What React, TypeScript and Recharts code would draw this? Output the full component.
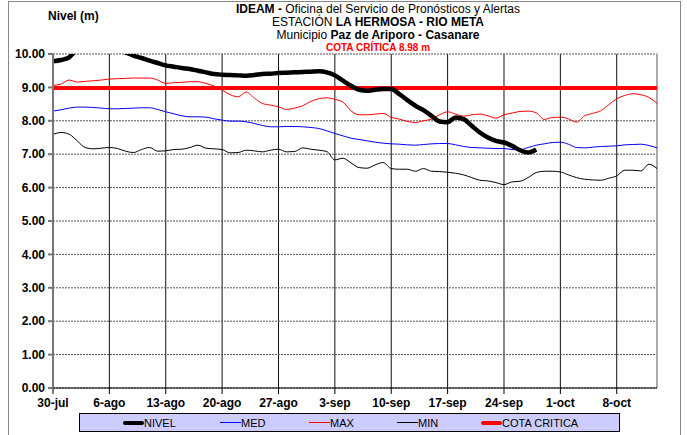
import React from "react";
import { LineChart, Line, XAxis, YAxis, CartesianGrid, ReferenceLine } from "recharts";

const tickDays = [0, 7, 14, 21, 28, 35, 42, 49, 56, 63, 70];
const tickLabels = ["30-jul", "6-ago", "13-ago", "20-ago", "27-ago", "3-sep", "10-sep", "17-sep", "24-sep", "1-oct", "8-oct"];
const yTicks = [0, 1, 2, 3, 4, 5, 6, 7, 8, 9, 10];
const cotaCritica = 8.98;

const nivel = [
  9.78, 9.82, 9.9, 10.15, 10.25, 10.3, 10.3, 10.25, 10.15, 10.05,
  9.95, 9.88, 9.8, 9.73, 9.66, 9.62, 9.58, 9.55, 9.5, 9.45,
  9.4, 9.38, 9.37, 9.36, 9.35, 9.37, 9.4, 9.41, 9.43, 9.44,
  9.45, 9.46, 9.47, 9.48, 9.45, 9.36, 9.2, 9.05, 8.93, 8.9,
  8.93, 8.95, 8.95, 8.8, 8.62, 8.45, 8.32, 8.15, 7.98, 7.96,
  8.1, 8.05, 7.85, 7.65, 7.5, 7.4, 7.35, 7.25, 7.12, 7.05,
  7.14,
];

const med = [
  8.29, 8.33, 8.38, 8.41, 8.41, 8.4, 8.38, 8.36, 8.36, 8.37,
  8.38, 8.39, 8.39, 8.34, 8.27, 8.21, 8.15, 8.12, 8.12, 8.11,
  8.06, 8.02, 7.99, 7.99, 7.97, 7.92, 7.86, 7.82, 7.82, 7.83,
  7.83, 7.82, 7.8, 7.77, 7.7, 7.62, 7.55, 7.48, 7.44, 7.4,
  7.36, 7.33, 7.31, 7.3, 7.28, 7.27, 7.29, 7.31, 7.32, 7.32,
  7.28, 7.23, 7.2, 7.19, 7.18, 7.17, 7.17, 7.14, 7.13, 7.2,
  7.27, 7.31, 7.35, 7.36, 7.3, 7.2, 7.19, 7.21, 7.23, 7.24,
  7.25, 7.28, 7.29, 7.3, 7.26, 7.19,
];

const max = [
  9.06, 9.1, 9.22, 9.16, 9.18, 9.2, 9.22, 9.25, 9.26, 9.27,
  9.28, 9.28, 9.28, 9.22, 9.12, 9.14, 9.15, 9.17, 9.17, 9.12,
  9.04, 8.92, 8.78, 8.72, 8.86, 8.68, 8.52, 8.47, 8.42, 8.34,
  8.38, 8.45, 8.58, 8.66, 8.69, 8.64, 8.56, 8.3, 8.18, 8.18,
  8.2, 8.22, 8.1, 8.05, 7.98, 7.95, 8.0, 8.05, 8.18, 8.27,
  8.2, 8.14, 8.18, 8.2, 8.15, 8.08, 8.18, 8.23, 8.28, 8.29,
  8.24, 8.04, 8.1, 8.11, 8.06, 7.96, 8.15, 8.22, 8.3, 8.48,
  8.66, 8.76, 8.81, 8.78, 8.7, 8.52,
];

const min = [
  7.59, 7.65, 7.6, 7.4, 7.2, 7.16, 7.18, 7.2, 7.17, 7.09,
  7.05, 7.14, 7.2, 7.09, 7.1, 7.14, 7.15, 7.2, 7.27, 7.18,
  7.16, 7.14, 7.04, 7.05, 7.12, 7.1, 7.07, 7.12, 7.15, 7.07,
  7.08, 7.19, 7.15, 7.12, 7.08, 6.83, 6.88, 6.74, 6.6, 6.58,
  6.68, 6.75, 6.57, 6.55, 6.55, 6.49, 6.57, 6.49, 6.48, 6.46,
  6.43, 6.38, 6.3, 6.22, 6.2, 6.15, 6.09, 6.17, 6.19, 6.3,
  6.45, 6.49, 6.49, 6.47, 6.38, 6.3, 6.25, 6.23, 6.22, 6.28,
  6.35, 6.52, 6.52, 6.5, 6.7, 6.57,
];

const data = med.map((m, i) => ({
  day: i,
  nivel: i < nivel.length ? nivel[i] : null,
  med: m,
  max: max[i],
  min: min[i],
}));

const FONT = "'Liberation Sans', Arial, sans-serif";

const legendItems = [
  { label: "NIVEL", color: "#000", w: 4, left: 122 },
  { label: "MED", color: "#0000ff", w: 1.5, left: 219 },
  { label: "MAX", color: "#ff0000", w: 1.5, left: 308 },
  { label: "MIN", color: "#000", w: 1.5, left: 396 },
  { label: "COTA CRITICA", color: "#ff0000", w: 4, left: 480 },
];

export default function App() {
  return (
    <div style={{ position: "absolute", left: 0, top: 0, width: 687, height: 435, background: "#fff", fontFamily: FONT, overflow: "hidden" }}>
      <div style={{ position: "absolute", left: 8, top: 1, width: 673, height: 450, border: "1px solid #888", boxSizing: "border-box" }} />
      <LineChart width={687} height={435} data={data} margin={{ top: 54, right: 30, bottom: 17, left: 0 }}>
        <CartesianGrid horizontal={false} vertical={true} stroke="#111" strokeWidth={1} />
        <CartesianGrid horizontal={true} vertical={false} stroke="#555" strokeDasharray="2 1" />
        <XAxis
          dataKey="day"
          type="number"
          domain={[0, 75]}
          ticks={tickDays}
          tickFormatter={(v) => tickLabels[tickDays.indexOf(v)] ?? ""}
          tick={{ fontSize: 12, fontWeight: "bold", fill: "#000", fontFamily: FONT }}
          tickSize={6}
          tickMargin={4}
          stroke="#000"
          height={30}
          interval={0}
          allowDataOverflow
        />
        <YAxis
          type="number"
          domain={[0, 10]}
          ticks={yTicks}
          tickFormatter={(v) => Number(v).toFixed(2)}
          tick={{ fontSize: 12, fontWeight: "bold", fill: "#000", fontFamily: FONT }}
          tickSize={5}
          tickMargin={3}
          width={53}
          stroke="#777"
          strokeWidth={2}
          allowDataOverflow
          interval={0}
        />
        <ReferenceLine x={75} stroke="#aaa" strokeWidth={2} />
        <ReferenceLine y={cotaCritica} stroke="#ff0000" strokeWidth={4} />
        <Line dataKey="max" type="monotone" stroke="#ff0000" strokeWidth={1} dot={false} isAnimationActive={false} />
        <Line dataKey="med" type="monotone" stroke="#0000ff" strokeWidth={1} dot={false} isAnimationActive={false} />
        <Line dataKey="min" type="monotone" stroke="#000" strokeWidth={1} dot={false} isAnimationActive={false} />
        <Line dataKey="nivel" type="monotone" stroke="#000" strokeWidth={4.5} dot={false} isAnimationActive={false} connectNulls={false} />
      </LineChart>
      <div style={{ position: "absolute", left: 48, top: 9, fontSize: 12, fontWeight: "bold", color: "#000" }}>Nivel (m)</div>
      <div style={{ position: "absolute", left: 208, width: 340, top: 3, textAlign: "center", fontSize: 12, lineHeight: "13px", color: "#000" }}>
        <div><b>IDEAM -</b> Oficina del Servicio de Pronósticos y Alertas</div>
        <div>ESTACIÓN <b>LA HERMOSA - RIO META</b></div>
        <div>Municipio <b>Paz de Ariporo - Casanare</b></div>
        <div style={{ color: "#ff0000", fontWeight: "bold", fontSize: 10, lineHeight: "11px" }}>COTA CRÍTICA 8.98 m</div>
      </div>
      <div style={{ position: "absolute", left: 79, top: 413, width: 541, height: 19, background: "#ccccff", border: "1px solid #000", boxSizing: "border-box" }}>
        {legendItems.map((it) => (
          <div key={it.label} style={{ position: "absolute", left: it.left - 79, top: 0, height: 17, display: "flex", alignItems: "center", fontSize: 11, color: "#000" }}>
            <span style={{ display: "inline-block", width: 21, height: it.w, background: it.color, borderRadius: it.w > 2 ? 2 : 0 }} />
            <span>{it.label}</span>
          </div>
        ))}
      </div>
    </div>
  );
}
